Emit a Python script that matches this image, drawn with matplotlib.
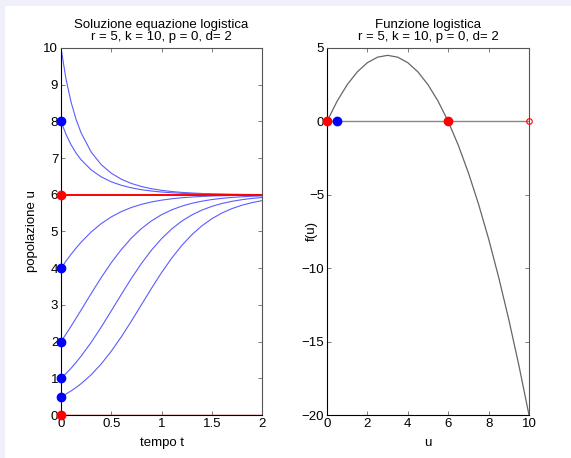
"""
Equazione logistica: soluzioni u(t) e funzione f(u)
r = 5, k = 10, p = 0, d = 2
"""
import matplotlib
matplotlib.use('Agg')
import matplotlib.pyplot as plt
from matplotlib.patches import Rectangle

plt.rcParams['font.family'] = ['Liberation Sans', 'DejaVu Sans']
plt.rcParams['font.size'] = 9.5

# --- dati ---
tempo = [0, 0.05, 0.1, 0.15, 0.2, 0.3, 0.4, 0.5, 0.6, 0.7, 0.8, 0.9, 1.0,
         1.1, 1.2, 1.3, 1.4, 1.5, 1.6, 1.7, 1.8, 1.9, 2.0]

u_10 = [10, 9.150, 8.527, 8.054, 7.688, 7.165, 6.822, 6.588, 6.425, 6.309, 6.226, 6.166,
        6.122, 6.090, 6.066, 6.049, 6.036, 6.027, 6.020, 6.015, 6.011, 6.008, 6.006]
u_8 = [8, 7.645, 7.364, 7.138, 6.954, 6.679, 6.489, 6.354, 6.259, 6.190, 6.139, 6.103,
       6.076, 6.056, 6.041, 6.031, 6.023, 6.017, 6.012, 6.009, 6.007, 6.005, 6.004]
u_4 = [4, 4.195, 4.378, 4.550, 4.708, 4.986, 5.215, 5.398, 5.542, 5.654, 5.740, 5.805,
       5.854, 5.891, 5.919, 5.940, 5.955, 5.967, 5.975, 5.982, 5.986, 5.990, 5.993]
u_2 = [2, 2.205, 2.418, 2.637, 2.860, 3.309, 3.744, 4.149, 4.509, 4.820, 5.079, 5.289,
       5.457, 5.588, 5.689, 5.767, 5.825, 5.870, 5.903, 5.928, 5.946, 5.960, 5.970]
u_1 = [1, 1.131, 1.275, 1.433, 1.603, 1.978, 2.394, 2.836, 3.285, 3.721, 4.128, 4.491,
       4.804, 5.066, 5.279, 5.449, 5.581, 5.684, 5.763, 5.822, 5.867, 5.901, 5.927]
u_05 = [0.5, 0.573, 0.656, 0.749, 0.853, 1.096, 1.391, 1.737, 2.129, 2.556, 3.003, 3.450,
        3.877, 4.268, 4.614, 4.907, 5.150, 5.347, 5.502, 5.623, 5.716, 5.787, 5.841]
soluzioni = [u_10, u_8, u_4, u_2, u_1, u_05]

dati_iniziali = [8, 4, 2, 1, 0.5]   # punti blu
equilibri = [0, 6]                   # punti rossi

u_vals = [0, 0.5, 1, 1.5, 2, 2.5, 3, 3.5, 4, 4.5, 5, 5.5, 6, 6.5, 7, 7.5, 8, 8.5, 9, 9.5, 10]
f_vals = [0, 1.375, 2.5, 3.375, 4, 4.375, 4.5, 4.375, 4, 3.375, 2.5, 1.375, 0, -1.625,
          -3.5, -5.625, -8, -10.625, -13.5, -16.625, -20]

blu = '#5c5cff'
titolo2 = 'r = 5, k = 10, p = 0, d= 2'

fig = plt.figure(figsize=(5.71, 4.58), dpi=100, facecolor='#f0f0fa')
fig.patches.append(Rectangle((5 / 571, 0), 1, 1 - 6 / 458, transform=fig.transFigure,
                             facecolor='white', edgecolor='none', zorder=-10))

ax1 = fig.add_axes([61 / 571, 1 - 415 / 458, 201 / 571, 367 / 458])
ax2 = fig.add_axes([327 / 571, 1 - 415 / 458, 202 / 571, 367 / 458])

# --- soluzioni ---
for u in soluzioni:
    ax1.plot(tempo, u, '-', color=blu, linewidth=0.8)
ax1.plot([tempo[0], tempo[-1]], [6, 6], '-', color='red', linewidth=1.4)
ax1.plot([tempo[0], tempo[-1]], [0, 0], '-', color='#e02020', linewidth=1.0)
ax1.plot([0] * len(dati_iniziali), dati_iniziali, 'o', color='blue', markersize=6,
         clip_on=False, zorder=5)
ax1.plot([0] * len(equilibri), equilibri, 'o', color='red', markersize=6,
         clip_on=False, zorder=5)
ax1.set_xlim(0, 2)
ax1.set_ylim(0, 10)
ax1.set_xticks([0, 0.5, 1, 1.5, 2])
ax1.set_xticklabels(['0', '0.5', '1', '1.5', '2'])
ax1.set_yticks(range(0, 11))
ax1.set_title('Soluzione equazione logistica\n' + titolo2, fontsize=9.5, pad=6, linespacing=1.0)
ax1.set_xlabel('tempo t', labelpad=5)
ax1.set_ylabel('popolazione u')
ax1.yaxis.set_label_coords(-0.115, 0.5)

# --- funzione logistica ---
ax2.plot([0, 10], [0, 0], '-', color='#888888', linewidth=1.0)
ax2.plot(u_vals, f_vals, '-', color='#666666', linewidth=0.9)
ax2.plot(equilibri, [0, 0], 'o', color='red', markersize=6, clip_on=False, zorder=5)
ax2.plot([0.5], [0], 'o', color='blue', markersize=6, clip_on=False, zorder=5)
ax2.plot([10], [0], 'o', markerfacecolor='none', markeredgecolor='red', markersize=4,
         markeredgewidth=0.8, clip_on=False, zorder=5)
ax2.set_xlim(0, 10)
ax2.set_ylim(-20, 5)
ax2.set_xticks(range(0, 11, 2))
ax2.set_yticks([-20, -15, -10, -5, 0, 5])
ax2.set_yticklabels(['\u221220', '\u221215', '\u221210', '\u22125', '0', '5'])
ax2.set_title('Funzione logistica\n' + titolo2, fontsize=9.5, pad=6, linespacing=1.0)
ax2.set_xlabel('u', labelpad=5)
ax2.set_ylabel('f(u)')
ax2.yaxis.set_label_coords(-0.045, 0.5)

for ax in (ax1, ax2):
    ax.tick_params(direction='in', length=3, width=0.6, top=True, right=True,
                   labelsize=9.5, pad=2, color='#666666')
    for s in ax.spines.values():
        s.set_linewidth(0.8)
        s.set_color('#555555')
    ax.spines['left'].set_color('black')
    ax.spines['bottom'].set_color('black')

fig.savefig('out.png', dpi=100, facecolor=fig.get_facecolor())
